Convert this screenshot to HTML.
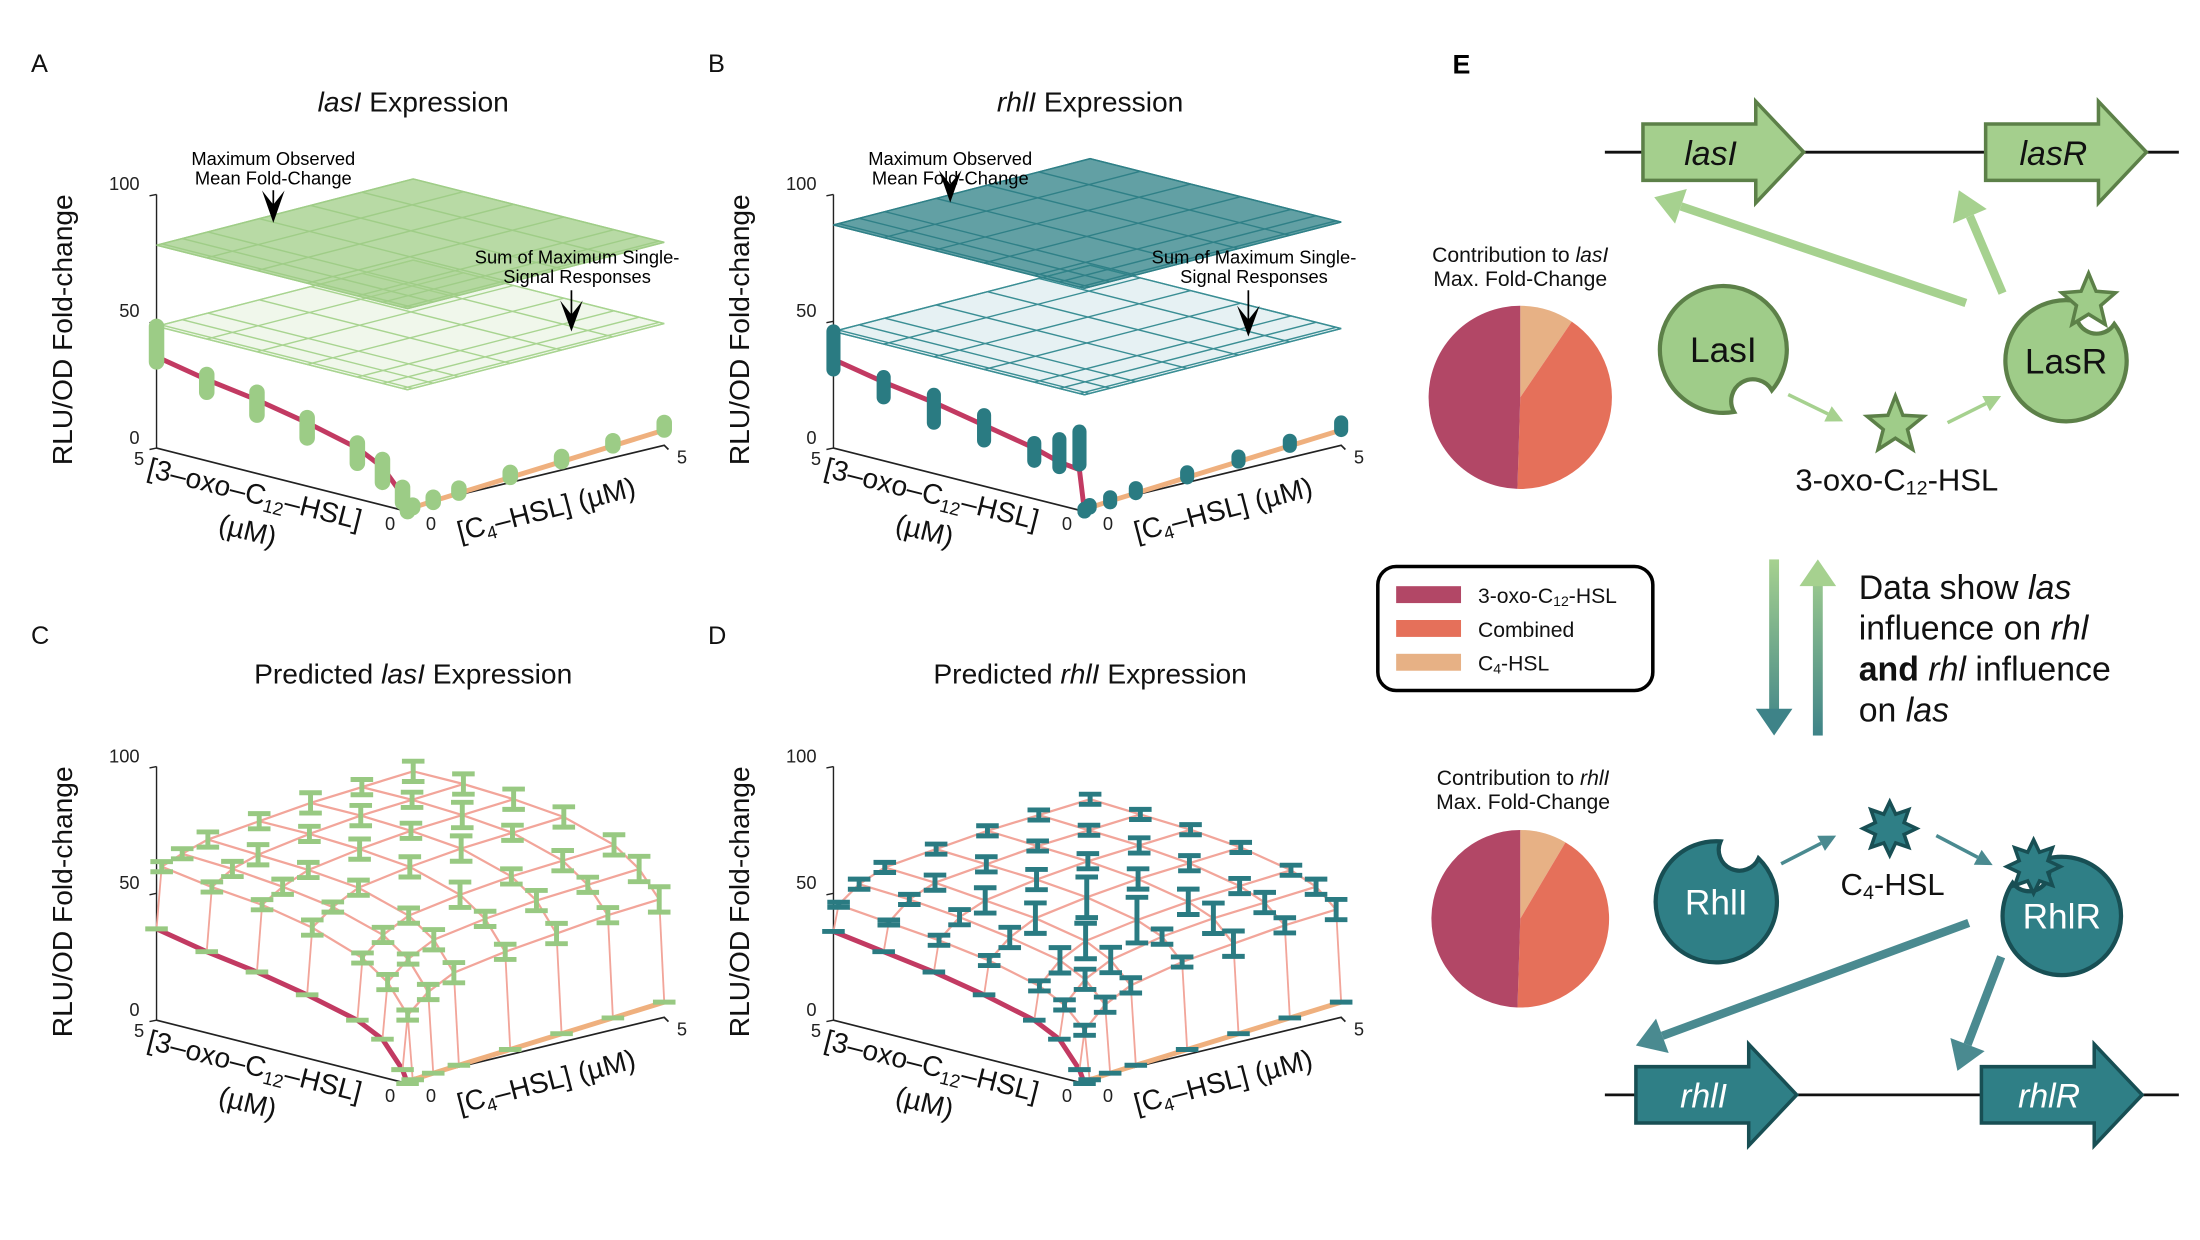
<!DOCTYPE html>
<html><head><meta charset="utf-8"><style>
html,body{margin:0;padding:0;background:#fff;}
svg{display:block;font-family:"Liberation Sans",Arial,sans-serif;}
</style></head><body>
<svg id="fig" width="2200" height="1240" viewBox="0 0 1560 880" preserveAspectRatio="none" xmlns="http://www.w3.org/2000/svg">
<defs>
<linearGradient id="gDown" gradientUnits="userSpaceOnUse" x1="0" y1="397" x2="0" y2="522"><stop offset="0" stop-color="#a6d18f"/><stop offset="1" stop-color="#3e8388"/></linearGradient>
<linearGradient id="gUp" gradientUnits="userSpaceOnUse" x1="0" y1="522" x2="0" y2="397"><stop offset="0" stop-color="#3e8388"/><stop offset="1" stop-color="#a6d18f"/></linearGradient>
</defs>
<g id="charts"></g>
<g id="panelE"></g>
</svg>
<script>
// ---------- data ----------
const conc = [0, 0.1, 0.5, 1, 2, 3, 4, 5];
const zTicks = [0, 50, 100];
const axisTicks = ["0", "5"];
// panel A: lasI measured
const lasIOxoReps = [[0,1],[3,9],[9,18],[14,22],[19,27],[23,32],[27,34],[34,44,48]];
const lasIC4Reps = [[0,1],[1,2],[1,3],[2,4],[3,5],[4,6],[5,7],[6,9]];
const lasIOxoFit = [0,6,15,20,25,29,32,36];
const lasIC4Fit = [0,1,1.5,2,3,4,5,6];
const lasIMaxObs = 80;
const lasISumMax = 48;
// panel B: rhlI measured
const rhlIOxoReps = [[0,1],[18,31],[15,26],[15,22],[18,28],[20,31],[25,33],[31,44,46]];
const rhlIC4Reps = [[0,1],[1,2],[1,3],[2,4],[3,5],[4,6],[5,7],[6,9]];
const rhlIOxoFit = [0,16,17,20,24,28,31,35];
const rhlIC4Fit = [0,1,1.5,2,3,4,5,6];
const rhlIMaxObs = 88;
const rhlISumMax = 46;
// panel C: predicted lasI (rows = 3-oxo index 1..7, cols = C4 index 1..7)
const predLasI = [
 [26,33,38,41,43,45,46],
 [37,44,49,52,54,55,56],
 [44,51,56,59,61,62,63],
 [51,57,62,65,67,68,69],
 [55,60,64,67,69,70,71],
 [57,62,65,68,70,71,72],
 [60,63,66,68,70,71,72]];
const errLasI = [
 [2,3,4,3,4,3,5],
 [3,2,4,3,4,3,5],
 [2,3,3,5,3,4,4],
 [3,2,3,4,5,3,4],
 [2,3,3,4,3,5,4],
 [2,3,4,3,4,3,4],
 [2,2,3,3,4,3,4]];
const predLasIOxoEdge = [0,5,15,20,25,29,32,36];
const predLasIC4Edge = [0,1,1.5,2,3,4,5,6];
// panel D: predicted rhlI
const predRhlI = [
 [20,28,33,37,39,41,42],
 [28,36,41,45,47,48,49],
 [33,41,46,49,51,52,53],
 [38,45,50,53,55,56,57],
 [41,48,52,55,57,58,59],
 [43,50,54,56,58,59,60],
 [45,51,55,57,59,60,61]];
const errRhlI = [
 [2,3,3,2,5,3,4],
 [2,4,5,3,6,4,3],
 [2,5,7,9,5,3,2],
 [2,4,6,8,4,3,2],
 [2,3,5,4,3,3,2],
 [1,2,3,3,2,2,2],
 [1,2,2,2,2,2,2]];
const predRhlIOxoEdge = [0,5,15,20,25,29,32,35];
const predRhlIC4Edge = [0,1,1.5,2,3,4,5,6];
// pies
const pieLabels = ["C4-HSL","Combined","3-oxo-C12-HSL"];
const pieLasI = [9.5, 41, 49.5];
const pieRhlI = [8.5, 42, 49.5];
const pieColors = ["#e7b185","#e5705a","#b24766"];

// ---------- helpers ----------
const NS = "http://www.w3.org/2000/svg";
const charts = document.getElementById("charts");
function el(tag, attrs, parent, text){
  const e = document.createElementNS(NS, tag);
  for (const k in attrs) e.setAttribute(k, attrs[k]);
  if (text !== undefined) e.textContent = text;
  (parent||charts).appendChild(e);
  return e;
}
function mkProj(ox, oy){
  return function(a, c, z){
    const fa = a/5, fc = c/5;
    return [ox - 178*fa + 182*fc, oy - 45*fa - 47*fc - 1.8*z];
  };
}
function pts(arr){ return arr.map(p=>p[0].toFixed(1)+","+p[1].toFixed(1)).join(" "); }

function drawAxes(g, P, title, titleItalic, letter, lx, ly){
  const o = P(0,0,0);
  const t = el("text",{x:P(5,5,0)[0], y:ly+34, "text-anchor":"middle","font-size":20,fill:"#111"}, g);
  
  
  t.innerHTML = title[0] + '<tspan font-style="italic">'+titleItalic+'</tspan>' + title[1];
  const L = el("text",{x:lx,y:ly+6,"font-size":18,fill:"#111"},g,letter);
  
  
  const bl = P(5,0,0);
  const ya = el("line",{x1:bl[0],y1:bl[1],x2:bl[0],y2:P(5,0,100)[1],stroke:"#222","stroke-width":1},g);
  
  
  zTicks.forEach(v=>{
    const p = P(5,0,v);
    el("line",{x1:p[0],y1:p[1],x2:p[0]-5,y2:p[1]+1,stroke:"#222"},g);
    const tl = el("text",{x:p[0]-12,y:p[1]-3,"text-anchor":"end","font-size":13,fill:"#222"},g,String(v));
    
    
  });
  const yl = el("text",{transform:`translate(${bl[0]-60},${P(5,0,50)[1]+6}) rotate(-90)`,"text-anchor":"middle","font-size":20,fill:"#111"},g,"RLU/OD Fold-change");
  
  
  const cr = P(0,5,0);
  const xa = el("polyline",{points:pts([bl,o]),fill:"none",stroke:"#222","stroke-width":1.2},g);
  
  
  const ca = el("polyline",{points:pts([[o[0]+4,o[1]-4],cr,[cr[0]+3,cr[1]+3]]),fill:"none",stroke:"#222","stroke-width":1.2},g);
  
  
  el("text",{x:bl[0]-16,y:bl[1]+12,"font-size":13,fill:"#222"},g,axisTicks[1]);
  el("text",{x:o[0]-16,y:o[1]+13,"font-size":13,fill:"#222"},g,axisTicks[0]);
  el("text",{x:o[0]+13,y:o[1]+13,"font-size":13,fill:"#222"},g,axisTicks[0]);
  el("text",{x:cr[0]+9,y:cr[1]+13,"font-size":13,fill:"#222"},g,axisTicks[1]);
  const ox = el("text",{transform:`translate(${o[0]-110},${o[1]-6}) rotate(14)`,"text-anchor":"middle","font-size":20,fill:"#111"},g);
  ox.innerHTML = '[3–oxo–C<tspan font-size="13" dy="4">12</tspan><tspan dy="-4">–HSL]</tspan>';
  
  
  el("text",{transform:`translate(${o[0]-115},${o[1]+20}) rotate(14)`,"text-anchor":"middle","font-size":20,fill:"#111"},g,"(µM)");
  const c4 = el("text",{transform:`translate(${o[0]+100},${o[1]+5}) rotate(-14.5)`,"text-anchor":"middle","font-size":20,fill:"#111"},g);
  c4.innerHTML = '[C<tspan font-size="13" dy="4">4</tspan><tspan dy="-4">–HSL] (µM)</tspan>';
  
  
}

function drawPlane(g, P, z, fill, stroke, name){
  const poly = el("polygon",{points:pts([P(5,0,z),P(0,0,z),P(0,5,z),P(5,5,z)]),fill:fill,stroke:stroke,"stroke-width":1},g);
  
  
  conc.forEach(c=>{
    el("line",{x1:P(0,c,z)[0],y1:P(0,c,z)[1],x2:P(5,c,z)[0],y2:P(5,c,z)[1],stroke:stroke,"stroke-width":1},g);
    el("line",{x1:P(c,0,z)[0],y1:P(c,0,z)[1],x2:P(c,5,z)[0],y2:P(c,5,z)[1],stroke:stroke,"stroke-width":1},g);
  });
}

function drawMeasured(ox, oy, d){
  const g = el("g",{});
  
  
  const P = mkProj(ox, oy);
  drawAxes(g, P, ["", "  Expression"], d.gene, d.letter, ox-267, oy-318);
  drawPlane(g, P, d.sum, d.sumFill, d.sumStroke, "sum-max-plane");
  drawPlane(g, P, d.max, d.maxFill, d.maxStroke, "max-observed-plane");
  const a1 = P(5,2,d.max);
  const t1 = el("text",{x:a1[0]+10,y:oy-246,"text-anchor":"middle","font-size":13,fill:"#000"},g);
  t1.innerHTML = '<tspan x="'+(a1[0]+10)+'">Maximum Observed</tspan><tspan x="'+(a1[0]+10)+'" dy="14">Mean Fold-Change</tspan>';
  
  
  const ax = a1[0]+10;
  el("line",{x1:ax,y1:oy-228,x2:ax,y2:a1[1]-5,stroke:"#000","stroke-width":1.2},g);
  el("polygon",{points:`${ax-8},${a1[1]-20} ${ax},${a1[1]-10} ${ax+8},${a1[1]-20} ${ax},${a1[1]+3}`,fill:"#000"},g);
  const a2 = P(1,4.5,d.sum);
  const t2 = el("text",{x:a2[0]-8,y:oy-176,"text-anchor":"middle","font-size":13,fill:"#000"},g);
  t2.innerHTML = '<tspan x="'+(a2[0]-8)+'">Sum of Maximum Single-</tspan><tspan x="'+(a2[0]-8)+'" dy="14">Signal Responses</tspan>';
  
  
  const bx = a2[0]-12;
  el("line",{x1:bx,y1:oy-157,x2:bx,y2:a2[1]+3,stroke:"#000","stroke-width":1.2},g);
  el("polygon",{points:`${bx-8},${a2[1]-12} ${bx},${a2[1]-2} ${bx+8},${a2[1]-12} ${bx},${a2[1]+10}`,fill:"#000"},g);
  const f1 = el("polyline",{points:pts(conc.map((c,i)=>P(c,0,d.oxoFit[i]))),fill:"none",stroke:"#c23a62","stroke-width":3.5},g);
  
  
  const f2 = el("polyline",{points:pts(conc.map((c,i)=>P(0,c,d.c4Fit[i]))),fill:"none",stroke:"#efb07e","stroke-width":3.5},g);
  
  
  conc.forEach((c,i)=>{
    const r = d.oxoReps[i];
    const lo = P(c,0,Math.min(...r)), hi = P(c,0,Math.max(...r));
    const m = el("line",{x1:lo[0],y1:lo[1],x2:hi[0],y2:hi[1],stroke:d.dot,"stroke-width":d.dw,"stroke-linecap":"round"},g);
    
    
    const r2 = d.c4Reps[i];
    const lo2 = P(0,c,Math.min(...r2)), hi2 = P(0,c,Math.max(...r2));
    const m2 = el("line",{x1:lo2[0],y1:lo2[1],x2:hi2[0],y2:hi2[1],stroke:d.dot,"stroke-width":d.dw,"stroke-linecap":"round"},g);
    
    
  });
}

function drawPred(ox, oy, d){
  const g = el("g",{});
  
  
  const P = mkProj(ox, oy);
  drawAxes(g, P, ["Predicted ", "  Expression"], d.gene, d.letter, ox-267, oy-318);
  const Z = (i,j)=> (i===0 ? d.c4Edge[j] : (j===0 ? d.oxoEdge[i] : d.mat[i-1][j-1]));
  const mesh = "#f2a59a";
  const f1 = el("polyline",{points:pts(conc.map((c,i)=>P(c,0,d.oxoEdge[i]))),fill:"none",stroke:"#c23a62","stroke-width":3.5},g);
  
  
  const f2 = el("polyline",{points:pts(conc.map((c,i)=>P(0,c,d.c4Edge[i]))),fill:"none",stroke:"#efb07e","stroke-width":3.5},g);
  
  
  for (let i=1;i<conc.length;i++){
    el("line",{x1:P(conc[i],0,Z(i,0))[0],y1:P(conc[i],0,Z(i,0))[1],x2:P(conc[i],conc[1],Z(i,1))[0],y2:P(conc[i],conc[1],Z(i,1))[1],stroke:mesh,"stroke-width":1.3},g);
    el("line",{x1:P(0,conc[i],Z(0,i))[0],y1:P(0,conc[i],Z(0,i))[1],x2:P(conc[1],conc[i],Z(1,i))[0],y2:P(conc[1],conc[i],Z(1,i))[1],stroke:mesh,"stroke-width":1.3},g);
  }
  for (let k=1;k<conc.length;k++){
    const row=[],col=[];
    for (let m=1;m<conc.length;m++){ row.push(P(conc[k],conc[m],Z(k,m))); col.push(P(conc[m],conc[k],Z(m,k))); }
    const a = el("polyline",{points:pts(row),fill:"none",stroke:mesh,"stroke-width":1.6},g);
    
    
    const b = el("polyline",{points:pts(col),fill:"none",stroke:mesh,"stroke-width":1.6},g);
    
    
  }
  for (let i=1;i<conc.length;i++) for (let j=1;j<conc.length;j++){
    const z = Z(i,j), e = d.err[i-1][j-1];
    const lo = P(conc[i],conc[j],z-e), hi = P(conc[i],conc[j],z+e);
    const eb = el("path",{d:`M${lo[0]},${lo[1]}V${hi[1]}M${lo[0]-8},${lo[1]}h16M${hi[0]-8},${hi[1]}h16`,stroke:d.dot,"stroke-width":3.5,fill:"none"},g);
    
    
  }
  for (let i=0;i<conc.length;i++){
    const p = P(conc[i],0,Z(i,0)), q = P(0,conc[i],Z(0,i));
    el("path",{d:`M${p[0]-8},${p[1]}h16M${q[0]-8},${q[1]}h16`,stroke:d.dot,"stroke-width":3.5},g);
  }
}

drawMeasured(289,363,{name:"panel-a-lasI",letter:"A",gene:"lasI",oxoReps:lasIOxoReps,c4Reps:lasIC4Reps,oxoFit:lasIOxoFit,c4Fit:lasIC4Fit,max:lasIMaxObs,sum:lasISumMax,maxFill:"rgba(160,205,135,0.75)",maxStroke:"#9fcd87",sumFill:"rgba(225,240,215,0.5)",sumStroke:"#a8d490",dot:"#9ccc86",dw:11});
drawMeasured(769,363,{name:"panel-b-rhlI",letter:"B",gene:"rhlI",oxoReps:rhlIOxoReps,c4Reps:rhlIC4Reps,oxoFit:rhlIOxoFit,c4Fit:rhlIC4Fit,max:rhlIMaxObs,sum:rhlISumMax,maxFill:"rgba(45,128,134,0.75)",maxStroke:"#2f8087",sumFill:"rgba(200,225,228,0.45)",sumStroke:"#3a8e94",dot:"#2a7b82",dw:10});
drawPred(289,769,{name:"panel-c-predicted-lasI",letter:"C",gene:"lasI",mat:predLasI,err:errLasI,oxoEdge:predLasIOxoEdge,c4Edge:predLasIC4Edge,dot:"#98c982"});
drawPred(769,769,{name:"panel-d-predicted-rhlI",letter:"D",gene:"rhlI",mat:predRhlI,err:errRhlI,oxoEdge:predRhlIOxoEdge,c4Edge:predRhlIC4Edge,dot:"#2a7b82"});

// ---------- panel E ----------
const E = document.getElementById("panelE");
function pie(cx, cy, r, vals, name){
  const g = el("g",{},E);
  
  
  const tot = vals.reduce((a,b)=>a+b,0);
  let a0 = -Math.PI/2;
  vals.forEach((v,i)=>{
    const a1 = a0 + v/tot*2*Math.PI;
    const large = (a1-a0)>Math.PI?1:0;
    const s = el("path",{d:`M${cx},${cy}L${cx+r*Math.cos(a0)},${cy+r*Math.sin(a0)}A${r},${r} 0 ${large} 1 ${cx+r*Math.cos(a1)},${cy+r*Math.sin(a1)}Z`,fill:pieColors[i]},g);
    
    
    a0 = a1;
  });
}
pie(1078,282,65,pieLasI,"pie-lasI-contribution");
pie(1078,652,63,pieRhlI,"pie-rhlI-contribution");
function protein(cx, cy, r, notchA, fill, stroke, label, txtFill, name){
  const a1 = notchA-0.35, a2 = notchA+0.35;
  const p1=[cx+r*Math.cos(a2),cy+r*Math.sin(a2)], p2=[cx+r*Math.cos(a1),cy+r*Math.sin(a1)];
  const g = el("g",{},E);
  
  
  el("path",{d:`M${p1[0]},${p1[1]}A${r},${r} 0 1 1 ${p2[0]},${p2[1]}A${r*0.26},${r*0.26} 0 1 0 ${p1[0]},${p1[1]}Z`,fill:fill,stroke:stroke,"stroke-width":3},g);
  el("text",{x:cx,y:cy+9,"text-anchor":"middle","font-size":25,fill:txtFill},g,label);
}
function star(cx, cy, ro, ri, n, fill, stroke, name){
  const p=[];
  for(let k=0;k<2*n;k++){const r=k%2?ri:ro;const a=-Math.PI/2+k*Math.PI/n;p.push([cx+r*Math.cos(a),cy+r*Math.sin(a)]);}
  const s = el("polygon",{points:pts(p),fill:fill,stroke:stroke,"stroke-width":2.5},E);
  
  
}
function arrow(x1,y1,x2,y2,w,hw,hl,color,name){
  const dx=x2-x1,dy=y2-y1,L=Math.hypot(dx,dy),ux=dx/L,uy=dy/L,bx=x2-ux*hl,by=y2-uy*hl;
  const g = el("g",{},E);
  
  
  el("line",{x1:x1,y1:y1,x2:bx,y2:by,stroke:color,"stroke-width":w},g);
  el("polygon",{points:`${x2},${y2} ${bx-uy*hw},${by+ux*hw} ${bx+uy*hw},${by-ux*hw}`,fill:color},g);
}
function gene(x, y, label, fill, stroke, name){
  const g = el("g",{},E);
  
  
  el("polygon",{points:`${x},${y-20} ${x+80},${y-20} ${x+80},${y-36} ${x+114},${y} ${x+80},${y+36} ${x+80},${y+20} ${x},${y+20}`,fill:fill,stroke:stroke,"stroke-width":2.5},g);
  el("text",{x:x+48,y:y+9,"text-anchor":"middle","font-size":24,"font-style":"italic",fill:stroke==="#5c8048"?"#111":"#fff"},g,label);
}
el("text",{x:1030,y:52,"font-size":19,"font-weight":"bold",fill:"#000"},E,"E");
el("line",{x1:1138,y1:108,x2:1545,y2:108,stroke:"#111","stroke-width":2},E);
el("line",{x1:1138,y1:777,x2:1545,y2:777,stroke:"#111","stroke-width":2},E);
gene(1165,108,"lasI","#a4cf8d","#5c8048","gene-lasI");
gene(1408,108,"lasR","#a4cf8d","#5c8048","gene-lasR");
gene(1160,777,"rhlI","#2f7f86","#184f54","gene-rhlI");
gene(1405,777,"rhlR","#2f7f86","#184f54","gene-rhlR");
arrow(1394,215,1173,140,6,13,20,"#a6d18f","arrow-lasR-to-lasI");
arrow(1420,208,1389,135,6,13,20,"#a6d18f","arrow-lasR-to-lasR");
protein(1222,248,45,1.05,"#9fcc89","#5c8048","LasI","#111","protein-LasI");
protein(1465,256,43,-1.0,"#9fcc89","#5c8048","LasR","#111","protein-LasR");
star(1481,214,20,9,5,"#9fcc89","#5c8048","star-bound-lasR");
arrow(1268,280,1307,299,2.5,6,12,"#a6d18f","arrow-lasI-to-signal");
arrow(1381,300,1419,281,2.5,6,12,"#a6d18f","arrow-signal-to-lasR");
star(1344,302,21,9,5,"#9fcc89","#5c8048","star-3oxo");
const t3 = el("text",{x:1345,y:348,"text-anchor":"middle","font-size":22,fill:"#111"},E);
t3.innerHTML='3-oxo-C<tspan font-size="14" dy="3">12</tspan><tspan dy="-3">-HSL</tspan>';
// vertical arrows
const va1 = el("rect",{x:1254.5,y:397,width:7,height:108,fill:"url(#gDown)"},E);


el("polygon",{points:"1245,503 1271,503 1258,522",fill:"#3e8388"},E);
const va2 = el("rect",{x:1285.5,y:414,width:7,height:108,fill:"url(#gUp)"},E);


el("polygon",{points:"1276,416 1302,416 1289,397",fill:"#a6d18f"},E);
const dt = el("text",{x:1318,y:425,"font-size":24,fill:"#111"},E);
dt.innerHTML='<tspan x="1318">Data show <tspan font-style="italic">las</tspan></tspan><tspan x="1318" dy="29">influence on <tspan font-style="italic">rhl</tspan></tspan><tspan x="1318" dy="29"><tspan font-weight="bold">and</tspan> <tspan font-style="italic">rhl</tspan> influence</tspan><tspan x="1318" dy="29">on <tspan font-style="italic">las</tspan></tspan>';


protein(1217,640,43,-1.15,"#2f7f86","#184f54","RhlI","#fff","protein-RhlI");
protein(1462,650,42,-2.2,"#2f7f86","#184f54","RhlR","#fff","protein-RhlR");
star(1442,615,19,11,8,"#2f7f86","#184f54","star-bound-rhlR");
star(1340,588,19,11,8,"#2f7f86","#184f54","star-c4");
const t4 = el("text",{x:1342,y:635,"text-anchor":"middle","font-size":22,fill:"#111"},E);
t4.innerHTML='C<tspan font-size="14" dy="3">4</tspan><tspan dy="-3">-HSL</tspan>';
arrow(1263,613,1302,593,2.5,6,12,"#4a8a90","arrow-rhlI-to-signal");
arrow(1373,593,1413,614,2.5,6,12,"#4a8a90","arrow-signal-to-rhlR");
arrow(1396,655,1160,742,6,13,20,"#4a8a90","arrow-rhlR-to-rhlI");
arrow(1419,679,1388,760,6,13,20,"#4a8a90","arrow-rhlR-to-rhlR");
const pt1 = el("text",{x:1078,y:186,"text-anchor":"middle","font-size":15,fill:"#111"},E);
pt1.innerHTML='<tspan x="1078">Contribution to <tspan font-style="italic">lasI</tspan></tspan><tspan x="1078" dy="17">Max. Fold-Change</tspan>';
const pt2 = el("text",{x:1080,y:557,"text-anchor":"middle","font-size":15,fill:"#111"},E);
pt2.innerHTML='<tspan x="1080">Contribution to <tspan font-style="italic">rhlI</tspan></tspan><tspan x="1080" dy="17">Max. Fold-Change</tspan>';
const lg = el("g",{},E);


el("rect",{x:977,y:402,width:195,height:88,rx:13,fill:"#fff",stroke:"#000","stroke-width":2.5},lg);
const legOrder=[2,1,0];
legOrder.forEach((k,n)=>{
  el("rect",{x:990,y:416+n*24,width:46,height:12,fill:pieColors[k]},lg);
  const tx = el("text",{x:1048,y:428+n*24,"font-size":15,fill:"#111"},lg);
  tx.innerHTML = ["3-oxo-C<tspan font-size=\"10\" dy=\"2\">12</tspan><tspan dy=\"-2\">-HSL</tspan>","Combined","C<tspan font-size=\"10\" dy=\"2\">4</tspan><tspan dy=\"-2\">-HSL</tspan>"][n];
  
  
});
</script>
</body></html>
